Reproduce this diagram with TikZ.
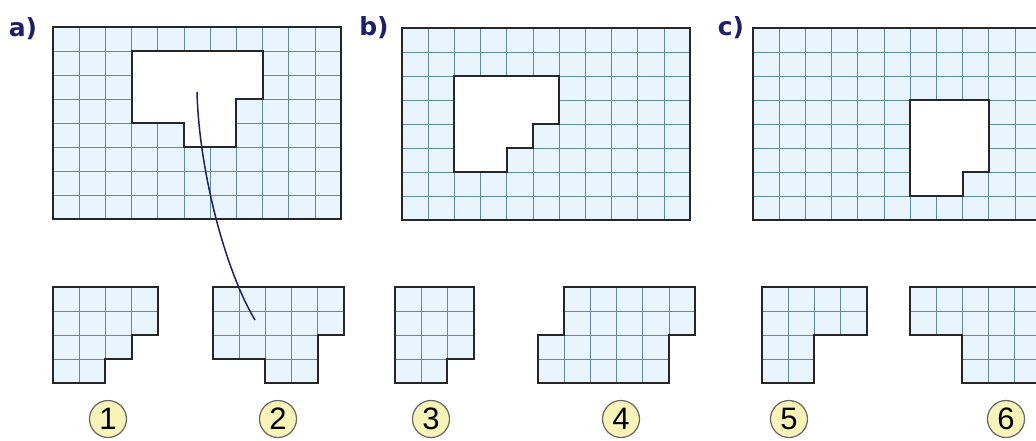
\documentclass[tikz,border=0pt]{standalone}
\usepackage{fontspec}
\setmainfont{Liberation Sans}
\newfontfamily\heavyfont{DejaVu Sans}
\usepackage{xcolor}
\usepackage{tikz}
\usetikzlibrary{positioning}

\definecolor{sheetblue}{HTML}{E8F5FC}
\definecolor{linegray}{HTML}{5F8AA6}
\definecolor{navy}{HTML}{1E1E6E}
\definecolor{tagyellow}{HTML}{F8F4B8}

% one sheet of squared paper (11 x 8) with a hole cut out
\newcommand{\sheet}[2]{%
\begin{scope}[shift={#1}, squares]
\fill[sheetblue] (0,0) rectangle (11,8);
\foreach \i in {1,...,10} \draw[gridline] (\i,0) -- (\i,8);
\foreach \j in {1,...,7} \draw[gridline] (0,\j) -- (11,\j);
\fill[white] #2;
\draw[outline] #2;
\draw[outline] (0,0) rectangle (11,8);
\end{scope}}

% one loose piece, grid clipped to its outline
\newcommand{\piece}[4]{%
\begin{scope}[shift={#1}, squares]
\fill[sheetblue] #4;
\begin{scope}
\clip #4;
\foreach \i in {1,...,#2} \draw[gridline] (\i,0) -- (\i,#3);
\foreach \j in {1,...,#3} \draw[gridline] (0,\j) -- (#2,\j);
\end{scope}
\draw[outline] #4;
\end{scope}}

\begin{document}
\begin{tikzpicture}[
x=1pt, y=-1pt,
squares/.style={x=26.2pt, y=-24pt},
gridline/.style={draw=linegray, line width=0.8pt},
outline/.style={draw=black!85, line width=2pt, line join=miter},
part/.style={font=\heavyfont\fontsize{25}{25}\selectfont\bfseries, text=navy, inner sep=0pt},
tag/.style={circle, draw=black!60, line width=1.2pt, fill=tagyellow, minimum size=37pt, inner sep=0pt, font=\fontsize{31}{31}\selectfont},
link/.style={draw=navy, line width=1.5pt}
]
\useasboundingbox (0,0) rectangle (1036,441);
\fill[white] (0,0) rectangle (1036,441);
\clip (0,0) rectangle (1036,441);

% sheets
\sheet{(53,27)}{(3,1) -- (8,1) -- (8,3) -- (7,3) -- (7,5) -- (5,5) -- (5,4) -- (3,4) -- cycle}
\sheet{(402,28)}{(2,2) -- (6,2) -- (6,4) -- (5,4) -- (5,5) -- (4,5) -- (4,6) -- (2,6) -- cycle}
\sheet{(753,28)}{(6,3) -- (9,3) -- (9,6) -- (8,6) -- (8,7) -- (6,7) -- cycle}

\node[part] (lbla) at (23,29) {a)};
\node[part] (lblb) at (374,28) {b)};
\node[part] (lblc) at (731,28) {c)};

% pieces
\piece{(53,287)}{4}{4}{(0,0) -- (4,0) -- (4,2) -- (3,2) -- (3,3) -- (2,3) -- (2,4) -- (0,4) -- cycle}
\piece{(213,287)}{5}{4}{(0,0) -- (5,0) -- (5,2) -- (4,2) -- (4,4) -- (2,4) -- (2,3) -- (0,3) -- cycle}
\piece{(395,287)}{3}{4}{(0,0) -- (3,0) -- (3,3) -- (2,3) -- (2,4) -- (0,4) -- cycle}
\piece{(538,287)}{6}{4}{(1,0) -- (6,0) -- (6,2) -- (5,2) -- (5,4) -- (0,4) -- (0,2) -- (1,2) -- cycle}
\piece{(762,287)}{4}{4}{(0,0) -- (4,0) -- (4,2) -- (2,2) -- (2,4) -- (0,4) -- cycle}
\piece{(910,287)}{5}{4}{(0,0) -- (5,0) -- (5,4) -- (2,4) -- (2,2) -- (0,2) -- cycle}

\node[tag] (n1) at (108,419) {1};
\node[tag] (n2) at (278,419) {2};
\node[tag] (n3) at (431,419) {3};
\node[tag] (n4) at (621,419) {4};
\node[tag] (n5) at (789,419) {5};
\node[tag] (n6) at (1006,419) {6};

% the matching line
\coordinate (pick) at (197,92);
\coordinate (drop) at (255,320);
\draw[link] (pick) .. controls +(2,78) and +(-30,-50) .. (drop);
\end{tikzpicture}
\end{document}
